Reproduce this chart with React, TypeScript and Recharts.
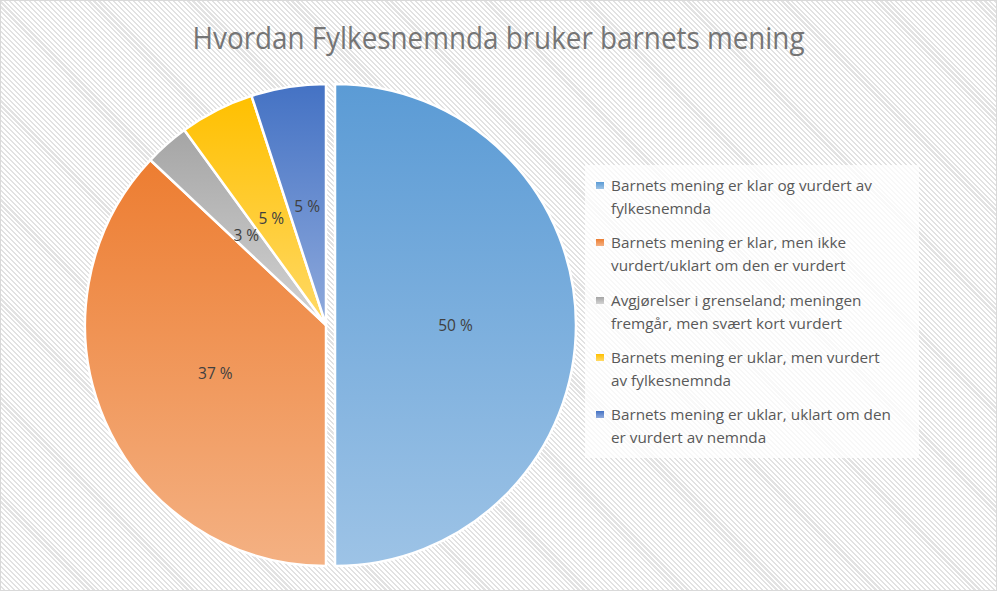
import React from 'react';
import { PieChart, Pie, Cell, Legend } from 'recharts';

const title = 'Hvordan Fylkesnemnda bruker barnets mening';
const categories = [
  'Barnets mening er klar og vurdert av fylkesnemnda',
  'Barnets mening er klar, men ikke vurdert/uklart om den er vurdert',
  'Avgjørelser i grenseland; meningen fremgår, men svært kort vurdert',
  'Barnets mening er uklar, men vurdert av fylkesnemnda',
  'Barnets mening er uklar, uklart om den er vurdert av nemnda',
];
const legendLines = [
  ['Barnets mening er klar og vurdert av', 'fylkesnemnda'],
  ['Barnets mening er klar, men ikke', 'vurdert/uklart om den er vurdert'],
  ['Avgjørelser i grenseland; meningen', 'fremgår, men svært kort vurdert'],
  ['Barnets mening er uklar, men vurdert', 'av fylkesnemnda'],
  ['Barnets mening er uklar, uklart om den', 'er vurdert av nemnda'],
];
const values = [50, 37, 3, 5, 5];
const valueLabels = ['50 %', '37 %', '3 %', '5 %', '5 %'];
const explode = [9, 0, 0, 0, 0];
const colorsTop = ['#5B9BD5', '#ED7D31', '#A5A5A5', '#FFC000', '#4472C4'];
const colorsBottom = ['#9DC3E6', '#F4B183', '#D3D3D3', '#FFD966', '#8FAADC'];

const data = categories.map((name, i) => ({ name, value: values[i] }));
const RAD = Math.PI / 180;

const renderLabel = (p: any) => {
  const { cx, cy, midAngle, outerRadius, index } = p;
  const e = explode[index];
  const r = outerRadius * 0.5;
  const x = cx + (r + e) * Math.cos(-midAngle * RAD);
  const y = cy + (r + e) * Math.sin(-midAngle * RAD);
  return (
    <text
      x={x}
      y={y}
      fill="#404040"
      fontSize={15.5}
      fontFamily="'Open Sans', sans-serif"
      textAnchor="middle"
      dominantBaseline="central"
    >
      {valueLabels[index]}
    </text>
  );
};

const renderLegend = () => (
  <div style={{ padding: '9px 0 0 11px', boxSizing: 'border-box' }}>
    {legendLines.map((lines, i) => (
      <div key={i} style={{ display: 'flex', alignItems: 'flex-start', height: 57.3 }}>
        <div
          style={{
            width: 8,
            height: 7,
            marginTop: 8,
            marginRight: 7,
            background: `linear-gradient(to bottom, ${colorsTop[i]}, ${colorsBottom[i]})`,
            flex: '0 0 auto',
          }}
        />
        <div
          style={{
            fontFamily: "'Open Sans', sans-serif",
            fontSize: 15.3,
            lineHeight: '23px',
            color: '#595959',
            whiteSpace: 'nowrap',
          }}
        >
          {lines.map((l, j) => (
            <div key={j}>{l}</div>
          ))}
        </div>
      </div>
    ))}
  </div>
);

export default function App() {
  return (
    <div
      style={{
        position: 'absolute',
        left: 0,
        top: 0,
        width: 997,
        height: 591,
        boxSizing: 'border-box',
        border: '1px solid #d9d9d9',
        background: 'repeating-linear-gradient(45deg, #ffffff 0px, #ffffff 2px, #e2e2e2 2px, #e2e2e2 3.5px)',
        overflow: 'hidden',
      }}
    >
      <PieChart
        width={995}
        height={589}
        margin={{ top: 0, right: 0, bottom: 0, left: 0 }}
        style={{ position: 'absolute', left: 0, top: 0 }}
      >
        <defs>
          {colorsTop.map((c, i) => (
            <linearGradient key={i} id={`grad${i}`} x1="0" y1="0" x2="0" y2="1">
              <stop offset="0%" stopColor={c} />
              <stop offset="100%" stopColor={colorsBottom[i]} />
            </linearGradient>
          ))}
        </defs>
        <text
          x={497.5}
          y={48}
          textAnchor="middle"
          fill="#757575"
          fontSize={31}
          fontFamily="'Open Sans', sans-serif"
          textLength={612}
          lengthAdjust="spacingAndGlyphs"
        >
          {title}
        </text>
        <Pie
          data={data}
          dataKey="value"
          nameKey="name"
          cx={325}
          cy={324}
          outerRadius={241}
          startAngle={90}
          endAngle={-270}
          stroke="#ffffff"
          strokeWidth={2.5}
          labelLine={false}
          label={renderLabel}
          isAnimationActive={false}
        >
          {data.map((d, i) => {
            const mid = 90 - (values.slice(0, i).reduce((a, b) => a + b, 0) + values[i] / 2) * 3.6;
            const dx = explode[i] * Math.cos(mid * RAD);
            const dy = -explode[i] * Math.sin(mid * RAD);
            return <Cell key={i} fill={`url(#grad${i})`} transform={`translate(${dx},${dy})`} />;
          })}
        </Pie>
        <Legend
          content={renderLegend}
          wrapperStyle={{
            position: 'absolute',
            left: 584,
            top: 164,
            width: 334,
            height: 293,
            background: 'rgba(255,255,255,0.75)',
          }}
        />
      </PieChart>
    </div>
  );
}
